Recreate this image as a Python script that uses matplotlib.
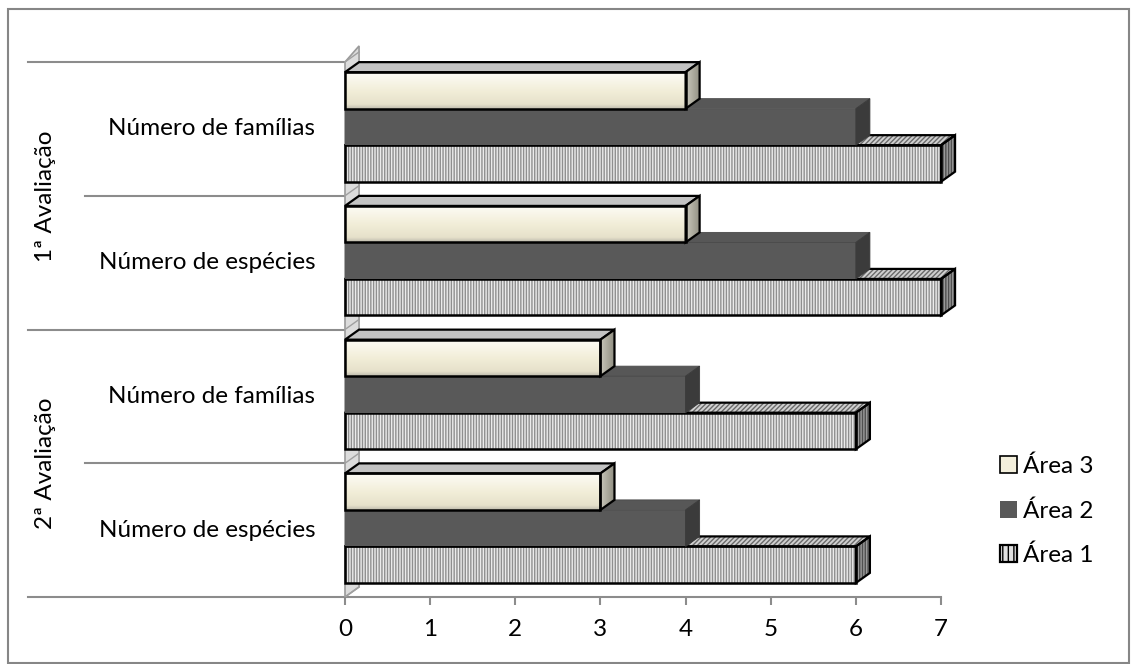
import numpy as np
import matplotlib
matplotlib.use("Agg")
import matplotlib.pyplot as plt
from matplotlib.patches import Rectangle, Polygon, Patch
from matplotlib.colors import LinearSegmentedColormap

# Values per category, listed bottom-to-top as they are drawn
categories = ["Número de espécies", "Número de famílias",
              "Número de espécies", "Número de famílias"]
groups = ["2ª Avaliação", "1ª Avaliação"]
area1 = [6, 6, 7, 7]
area2 = [4, 4, 6, 6]
area3 = [3, 3, 4, 4]
series_names = ["Área 1", "Área 2", "Área 3"]
xticks = [0, 1, 2, 3, 4, 5, 6, 7]

plt.rcParams["font.family"] = ["Lato", "DejaVu Sans"]
plt.rcParams["hatch.linewidth"] = 1.0
FS = 17.5

fig = plt.figure(figsize=(11.31, 6.64), dpi=100)
ax = fig.add_axes([345 / 1131, 1 - 597 / 664, 596 / 1131, 535 / 664])
ax.set_xlim(0, 7)
ax.set_ylim(0, 4)

# pseudo-3D depth of the bars (data units)
DX, DY = 0.165, 0.075
BAR_H = 0.273
OFFSETS = [0.105, 0.378, 0.651]
GRID = "#8c8c8c"

cream = LinearSegmentedColormap.from_list(
    "cream", [(0, "#bfbbae"), (0.12, "#e6e1cb"), (0.5, "#f2eed9"), (1, "#fdfcf6")])

# back/left wall
wall = Polygon([(0, 0), (0, 4), (DX, 4 + 0.12), (DX, DY)], closed=True,
               facecolor="#dcdcdc", edgecolor="#9a9a9a", lw=1.2, zorder=1, clip_on=False)
ax.add_patch(wall)
for y in range(5):
    ax.plot([0, DX], [y, y + DY], color="#a0a0a0", lw=1, zorder=1.5, clip_on=False)

# category separators, extending into the label area
ytr = ax.get_yaxis_transform()
for y in range(5):
    x0 = -0.532 if y % 2 == 0 else -0.436
    ax.plot([x0, 0], [y, y], color=GRID, lw=1.5, transform=ytr, clip_on=False, zorder=0)


def draw_bar(v, y0, style):
    y1 = y0 + BAR_H
    top = [(0, y1), (DX, y1 + DY), (v + DX, y1 + DY), (v, y1)]
    side = [(v, y0), (v, y1), (v + DX, y1 + DY), (v + DX, y0 + DY)]
    kw = dict(zorder=3, clip_on=False)
    if style == 1:
        ax.add_patch(Rectangle((0, y0), v, BAR_H, facecolor="#ececec", edgecolor="#8f8f8f",
                               hatch="|" * 6, lw=0, **kw))
        ax.add_patch(Polygon(top, facecolor="#d0d0d0", edgecolor="#6a6a6a",
                             hatch="/" * 7, lw=0, **kw))
        ax.add_patch(Polygon(side, facecolor="#9a9a9a", edgecolor="#505050",
                             hatch="|" * 6, lw=0, **kw))
        for pts in (top, side):
            ax.add_patch(Polygon(pts, fill=False, edgecolor="black", lw=1.6, **kw))
        ax.add_patch(Rectangle((0, y0), v, BAR_H, fill=False, edgecolor="black", lw=1.8, **kw))
    elif style == 2:
        ax.add_patch(Rectangle((0, y0), v, BAR_H, facecolor="#595959", lw=0, **kw))
        ax.add_patch(Polygon(top, facecolor="#575757", edgecolor="#4a4a4a", lw=0.6, **kw))
        ax.add_patch(Polygon(side, facecolor="#3b3b3b", edgecolor="#3b3b3b", lw=0.6, **kw))
    else:
        front = Rectangle((0, y0), v, BAR_H, facecolor="#f2eed9", lw=0, **kw)
        ax.add_patch(front)
        grad = np.linspace(0, 1, 64).reshape(-1, 1)
        im = ax.imshow(grad, cmap=cream, aspect="auto", origin="lower",
                       extent=(0, v, y0, y1), zorder=3, interpolation="bilinear")
        im.set_clip_path(front)
        ax.add_patch(Polygon(top, facecolor="#c3c3c3", edgecolor="black", lw=1.6, **kw))
        sp = Polygon(side, facecolor="#aaa899", lw=0, **kw)
        ax.add_patch(sp)
        gs = np.linspace(0, 1, 32).reshape(1, -1)
        im2 = ax.imshow(gs, cmap=LinearSegmentedColormap.from_list("s", ["#c9c7ba", "#8e8c80"]),
                        aspect="auto", extent=(v, v + DX, y0, y1 + DY), zorder=3)
        im2.set_clip_path(sp)
        ax.add_patch(Polygon(side, fill=False, edgecolor="black", lw=1.6, **kw))
        ax.add_patch(Rectangle((0, y0), v, BAR_H, fill=False, edgecolor="black", lw=1.8, **kw))


for i in range(len(categories)):
    for s, vals in enumerate([area1, area2, area3]):
        draw_bar(vals[i], i + OFFSETS[s], s + 1)

ax.set_xlim(0, 7)
ax.set_ylim(0, 4)

for sp in ax.spines.values():
    sp.set_visible(False)
ax.plot([0, 1], [0, 0], color=GRID, lw=1.5, transform=ax.transAxes, clip_on=False, zorder=0)
ax.set_xticks(xticks)
ax.tick_params(axis="x", length=6, width=1.5, color=GRID, labelsize=FS, pad=10)
ax.set_yticks([])

for i, name in enumerate(categories):
    ax.text(-0.05, i + 0.5, name, transform=ytr, ha="right", va="center", fontsize=FS)
for j, g in enumerate(groups):
    ax.text(-0.502, 2 * j + 1, g, transform=ytr, ha="center", va="center",
            rotation=90, fontsize=FS)

handles = [
    Patch(facecolor="#f3efdc", edgecolor="black", lw=1.2),
    Patch(facecolor="#595959", edgecolor="#595959", lw=0),
    Patch(facecolor="#e0e0e0", edgecolor="black", hatch="|||", lw=1.6),
]
fig.legend(handles, series_names[::-1], loc="center left",
           bbox_to_anchor=(978 / 1131, 1 - 511 / 664), frameon=False, fontsize=FS,
           handlelength=0.7, handleheight=0.7, handletextpad=0.25, labelspacing=0.95)

fig.patches.append(Rectangle((8 / 1131, 1 / 664), 1121 / 1131, 654 / 664, fill=False,
                             edgecolor="#868686", lw=1.5, transform=fig.transFigure))

fig.savefig("out.png", dpi=100)
